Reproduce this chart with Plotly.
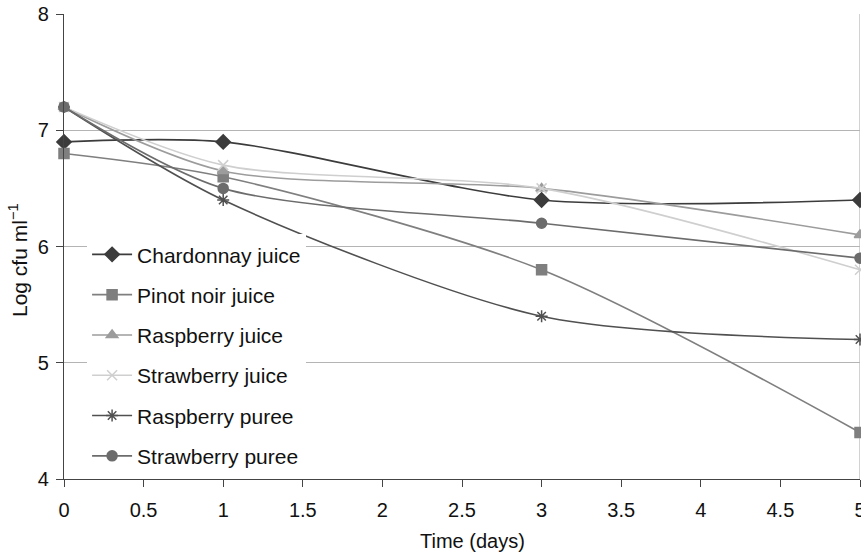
import plotly.graph_objects as go

days = [0, 1, 3, 5]
series_names = ["Chardonnay juice", "Pinot noir juice", "Raspberry juice",
                "Strawberry juice", "Raspberry puree", "Strawberry puree"]
chardonnay_juice = [6.9, 6.9, 6.4, 6.4]
pinot_noir_juice = [6.8, 6.6, 5.8, 4.4]
raspberry_juice = [7.2, 6.65, 6.5, 6.1]
strawberry_juice = [7.2, 6.7, 6.5, 5.8]
raspberry_puree = [7.2, 6.4, 5.4, 5.2]
strawberry_puree = [7.2, 6.5, 6.2, 5.9]
values = [chardonnay_juice, pinot_noir_juice, raspberry_juice,
          strawberry_juice, raspberry_puree, strawberry_puree]
x_ticks = [0, 0.5, 1, 1.5, 2, 2.5, 3, 3.5, 4, 4.5, 5]
y_ticks = [4, 5, 6, 7, 8]

colors = ["#3c3c3c", "#7f7f7f", "#9c9c9c", "#cfcfcf", "#505050", "#6c6c6c"]
symbols = ["diamond", "square", "triangle-up", "x-thin", "asterisk", "circle"]
sizes = [11, 10, 10, 10, 10, 10]

FONT = "Liberation Sans, Arial, sans-serif"

fig = go.Figure()
for i, (name, vals) in enumerate(zip(series_names, values)):
    fig.add_trace(go.Scatter(
        x=days, y=vals, name=name, mode="lines+markers",
        line=dict(color=colors[i], width=1.6, shape="spline", smoothing=0.8),
        marker=dict(symbol=symbols[i], size=sizes[i], color=colors[i],
                    line=dict(color=colors[i], width=1.5)),
        legendgroup=f"g{i}", cliponaxis=False,
    ))

fig.update_layout(
    width=861, height=558,
    margin=dict(l=64, r=1, t=14, b=79),
    paper_bgcolor="white", plot_bgcolor="white",
    font=dict(family=FONT, size=20, color="#111111"),
    showlegend=True,
    legend=dict(x=0.029, y=0.006, xanchor="left", yanchor="bottom",
                bgcolor="white", borderwidth=0, traceorder="grouped",
                tracegroupgap=10, itemwidth=40,
                font=dict(size=21, color="#111111")),
    xaxis=dict(range=[0, 5], tickvals=x_ticks, ticktext=[str(t) for t in x_ticks],
               showgrid=False, zeroline=False, showline=True, linecolor="#444444",
               linewidth=1.3, ticks="outside", ticklen=7, tickcolor="#444444",
               automargin=False, ticklabeloverflow="allow", ticklabelstandoff=6,
               tickfont=dict(size=20)),
    yaxis=dict(range=[4, 8], tickvals=y_ticks, showgrid=True, gridcolor="#b4b4b4",
               gridwidth=1.2, zeroline=False, showline=True, linecolor="#444444",
               linewidth=1.3, ticks="outside", ticklen=7, tickcolor="#444444",
               automargin=False, ticklabeloverflow="allow", ticklabelstandoff=3,
               tickfont=dict(size=20)),
)
# axis titles
fig.add_annotation(text="Time (days)", xref="paper", yref="paper",
                   x=(472 - 64) / 796, y=-(541 - 479) / 465, xanchor="center",
                   yanchor="middle", showarrow=False, font=dict(size=20, family=FONT))
fig.add_annotation(text="Log cfu ml<sup>\u22121</sup>", xref="paper", yref="paper",
                   x=-(64 - 18) / 796, y=(479 - 260) / 465, xanchor="center",
                   yanchor="middle", textangle=-90, showarrow=False,
                   font=dict(size=21, family=FONT))
# right border
fig.add_shape(type="line", xref="x", yref="y", x0=5, x1=5, y0=4, y1=8,
              line=dict(color="#b4b4b4", width=1.2), layer="below")

fig.write_html("out.html")
